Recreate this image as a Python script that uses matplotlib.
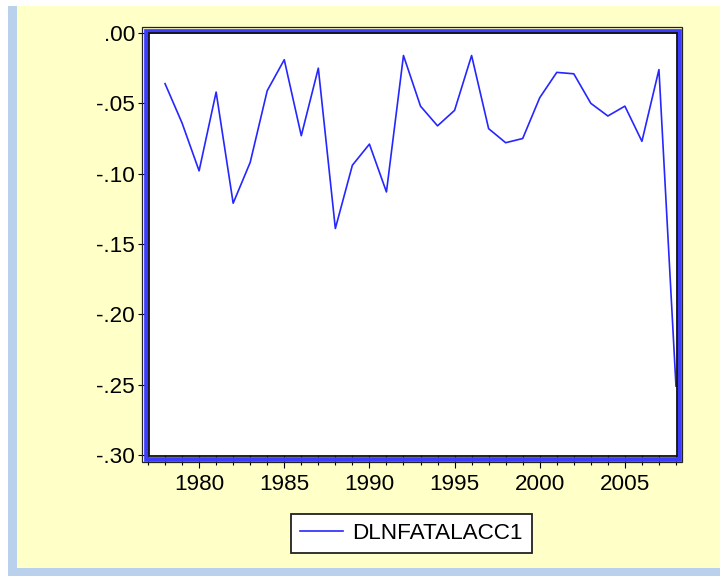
import matplotlib.pyplot as plt
from matplotlib.patches import Rectangle
from matplotlib.ticker import FuncFormatter, MultipleLocator

# 数据：年份与 DLNFATALACC1 数值
years = list(range(1978, 2009))
dlnfatalacc1 = [
    -0.036, -0.064, -0.098, -0.042, -0.121, -0.092, -0.041, -0.019,
    -0.073, -0.025, -0.139, -0.094, -0.079, -0.113, -0.016, -0.052,
    -0.066, -0.055, -0.016, -0.068, -0.078, -0.075, -0.046, -0.028,
    -0.029, -0.050, -0.059, -0.052, -0.077, -0.026, -0.251,
]
series_name = "DLNFATALACC1"

W, H = 720, 576
YELLOW = "#FFFFC8"
PALE_BLUE = "#B9D1EC"
FRAME_BLUE = "#3C3CFF"
LINE_BLUE = "#2626FF"
FS = 16.2

plt.rcParams['font.family'] = ['Liberation Sans', 'DejaVu Sans']

fig = plt.figure(figsize=(W / 100, H / 100), dpi=100, facecolor="white")


def px_rect(x0, y0, x1, y1, **kw):
    """像素坐标（左上为原点）转为 figure 坐标的矩形"""
    return Rectangle((x0 / W, 1 - y1 / H), (x1 - x0) / W, (y1 - y0) / H,
                     transform=fig.transFigure, **kw)


# 背景：浅蓝边条 + 淡黄底
fig.add_artist(px_rect(8, 6, W, H, facecolor=PALE_BLUE, edgecolor="none", zorder=-3))
fig.add_artist(px_rect(17, 6, W, 568, facecolor=YELLOW, edgecolor="none", zorder=-2))

# 绘图区
ax = fig.add_axes([148 / W, 1 - 455 / H, (677 - 148) / W, (455 - 33) / H])
ax.set_facecolor("white")
ax.plot(years, dlnfatalacc1, color=LINE_BLUE, lw=1.2, label=series_name)

ax.set_xlim(1977, 2008.06)
ax.set_ylim(-0.30, 0.0)

ax.xaxis.set_major_locator(MultipleLocator(5))
ax.xaxis.set_minor_locator(MultipleLocator(1))
ax.yaxis.set_major_locator(MultipleLocator(0.05))
ax.yaxis.set_major_formatter(FuncFormatter(
    lambda v, _: f"{v:.2f}".replace("0.", ".", 1) if abs(v) > 1e-9 else ".00"))

for s in ax.spines.values():
    s.set_visible(False)

ax.tick_params(axis="y", direction="out", length=7.2, width=0.8, pad=2.2,
               labelsize=FS, colors="black")
ax.tick_params(axis="x", which="major", direction="out", length=9.4, width=0.8,
               pad=4, labelsize=FS, colors="black")
ax.tick_params(axis="x", which="minor", direction="out", length=7.2, width=0.8)

# 外框：黑线 + 蓝色粗带 + 黑线
fig.add_artist(px_rect(142, 27, 682, 462, fill=False, edgecolor="#222222", lw=0.9, zorder=5))
fig.add_artist(px_rect(145.5, 30.5, 679, 459, fill=False, edgecolor=FRAME_BLUE, lw=3.4, zorder=5))
fig.add_artist(px_rect(148.5, 33, 677, 455.5, fill=False, edgecolor="#111111", lw=1.3, zorder=6))

# 图例
leg = fig.legend(loc="center", bbox_to_anchor=(411.5 / W, 1 - 533.5 / H),
                 fontsize=FS, frameon=True, fancybox=False, borderpad=0.42,
                 handlelength=1.9, handletextpad=0.4, borderaxespad=0)
leg.get_frame().set_edgecolor("#222222")
leg.get_frame().set_linewidth(1.3)
leg.get_frame().set_facecolor("white")
leg.get_frame().set_alpha(1)

fig.savefig("out.png", dpi=100, facecolor=fig.get_facecolor())
